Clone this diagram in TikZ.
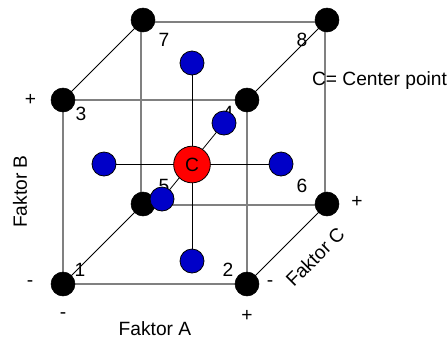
\documentclass[tikz,border=0pt]{standalone}
\usepackage{fontspec}
\setmainfont{Liberation Sans}
\usetikzlibrary{calc}
\pgfdeclarelayer{lines}
\pgfdeclarelayer{labels}
\pgfsetlayers{lines,labels,main}
\definecolor{dotblue}{RGB}{0,0,200}
\tikzset{
  every node/.style={inner sep=0pt,outer sep=0pt},
  corner/.style={circle,draw=black,fill=black,minimum size=18pt},
  axial/.style={circle,draw=black,line width=0.6pt,fill=dotblue,minimum size=18pt},
  centre/.style={circle,draw=black,line width=0.6pt,fill=red,minimum size=27.5pt},
  edge/.style={draw=black!50,line width=1pt},
  depth/.style={draw=black,line width=0.6pt},
  spoke/.style={draw=black,line width=0.7pt},
  tag/.style={font=\fontsize{14.4pt}{16pt}\selectfont,text=black}
}
\begin{document}
\begin{tikzpicture}[x=0.75pt,y=-0.75pt]
\useasboundingbox (0,0) rectangle (448,340);
% corners
\node[corner] (n1) at (63,284) {};
\node[corner] (n2) at (247,284) {};
\node[corner] (n3) at (63,100) {};
\node[corner] (n4) at (247,100) {};
\node[corner] (n5) at (143,204) {};
\node[corner] (n6) at (327,204) {};
\node[corner] (n7) at (143,20) {};
\node[corner] (n8) at (327,20) {};
% axial points
\node[axial] (top) at (192,63) {};
\node[axial] (bot) at (192,261) {};
\node[axial] (lef) at (104,164) {};
\node[axial] (rig) at (281,164) {};
\node[axial] (bak) at (162,199) {};
\node[axial] (fro) at (224,123) {};
\node[centre,tag] (cen) at (192,164.5) {C};
\begin{pgfonlayer}{lines}
  \path[edge] (n1) -- (n2);
  \path[edge] (n3) -- (n4);
  \path[edge] (n1) -- (n3);
  \path[edge] (n2) -- (n4);
  \path[edge] ([yshift=-1.5pt]n7.center) -- ([yshift=-1.5pt]n8.center);
  \path[edge] ([yshift=-0.75pt]n5.center) -- ([yshift=-0.75pt]n6.center);
  \path[edge] ([xshift=-1.5pt]n5.center) -- ([xshift=-1.5pt]n7.center);
  \path[edge] ([xshift=-1.5pt]n6.center) -- ([xshift=-1.5pt]n8.center);
  \path[depth] (n1) -- (n5);
  \path[depth] (n2) -- (n6);
  \path[depth] (n3) -- (n7);
  \path[depth] (n4) -- (n8);
  \path[spoke] (top) -- (bot);
  \path[spoke] (lef) -- (rig);
  \path[depth] (bak) -- (fro);
\end{pgfonlayer}
\begin{pgfonlayer}{labels}
  \node[tag] (l1) at (80,270) {1};
  \node[tag] (l2) at (228,270) {2};
  \node[tag] (l3) at (81,113.5) {3};
  \node[tag] (l4) at (228,113) {4};
  \node[tag] (l5) at (164,186) {5};
  \node[tag] (l6) at (302,186) {6};
  \node[tag] (l7) at (164,39.5) {7};
  \node[tag] (l8) at (302,39.5) {8};
\end{pgfonlayer}
\node[tag] (plusB) at (30.5,100) {+};
\node[tag] (minusB) at (30,284) {-};
\node[tag] (minusA) at (63,316) {-};
\node[tag] (plusA) at (247,316) {+};
\node[tag] (minusC) at (270,284) {-};
\node[tag] (plusC) at (357,201.5) {+};
\node[tag] (fA) at (155,329) {Faktor A};
\node[tag,rotate=90] (fB) at (20,191.5) {Faktor B};
\node[tag,rotate=45] (fC) at (315,257) {Faktor C};
\node[tag,anchor=base west] (note) at (312,85) {C= Center point};
\end{tikzpicture}
\end{document}
